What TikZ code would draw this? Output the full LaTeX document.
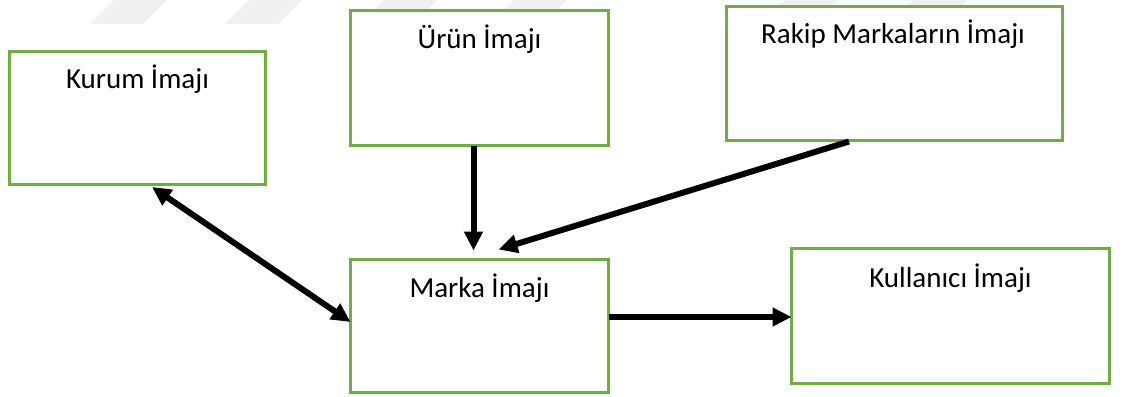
\documentclass[tikz,border=0pt]{standalone}
\usepackage{fontspec}
\setmainfont{Carlito}
\usetikzlibrary{arrows.meta}
\definecolor{boxgreen}{HTML}{70AD47}
\definecolor{wmgray}{HTML}{F0F0F0}
\tikzset{
  box/.style={draw=boxgreen, line width=3pt, fill=white, rectangle, inner sep=0pt, outer sep=0pt, anchor=north west},
  lbl/.style={font=\fontsize{29}{34}\selectfont, anchor=base, inner sep=0pt, text=black},
  tip/.style={},
  arr/.style={line width=6pt, draw=black, -{Triangle[length=19pt,width=18pt]}},
  darr/.style={line width=6pt, draw=black, {Triangle[length=19pt,width=18pt]}-{Triangle[length=19pt,width=18pt]}},
  wm/.style={fill=wmgray, draw=none}
}
\begin{document}
\begin{tikzpicture}[x=1pt, y=-1pt]
\useasboundingbox (0,0) rectangle (1142,396);
% faint watermark shapes
\foreach \bx in {90,225,360,490,760,890} {
  \fill[wm] (\bx,24) -- (\bx+53,24) -- (\bx+77,0) -- (\bx+24,0) -- cycle;
}
% boxes
\node[box, minimum width=256pt, minimum height=133pt] (kurum) at (9.5,51.5) {};
\node[box, minimum width=258pt, minimum height=135pt] (urun) at (350.5,10.5) {};
\node[box, minimum width=336pt, minimum height=134pt] (rakip) at (726,6.5) {};
\node[box, minimum width=258pt, minimum height=133pt] (marka) at (350.5,259.5) {};
\node[box, minimum width=318pt, minimum height=135pt] (kull) at (791.5,248.5) {};
% labels
\node[lbl] (tkurum) at ([yshift=-37pt]kurum.north) {Kurum İmajı};
\node[lbl] (turun) at ([yshift=-38pt]urun.north) {Ürün İmajı};
\node[lbl] (trakip) at ([yshift=-37pt,xshift=-1pt]rakip.north) {Rakip Markaların İmajı};
\node[lbl] (tmarka) at ([yshift=-38pt]marka.north) {Marka İmajı};
\node[lbl] (tkull) at ([yshift=-38.5pt]kull.north) {Kullanıcı İmajı};
% connectors
\draw[arr] ([xshift=-6pt]urun.south) -- ([xshift=-6pt,yshift=9pt]marka.north);
\draw[arr] ([xshift=-45pt,yshift=-1pt]rakip.south) -- ([xshift=19pt,yshift=10pt]marka.north);
\draw[darr] ([xshift=14.5pt,yshift=-2.5pt]kurum.south) -- ([yshift=4pt]marka.west);
\draw[arr] ([yshift=9pt]marka.east) -- ([yshift=9pt]marka.east -| kull.west);
\end{tikzpicture}
\end{document}
